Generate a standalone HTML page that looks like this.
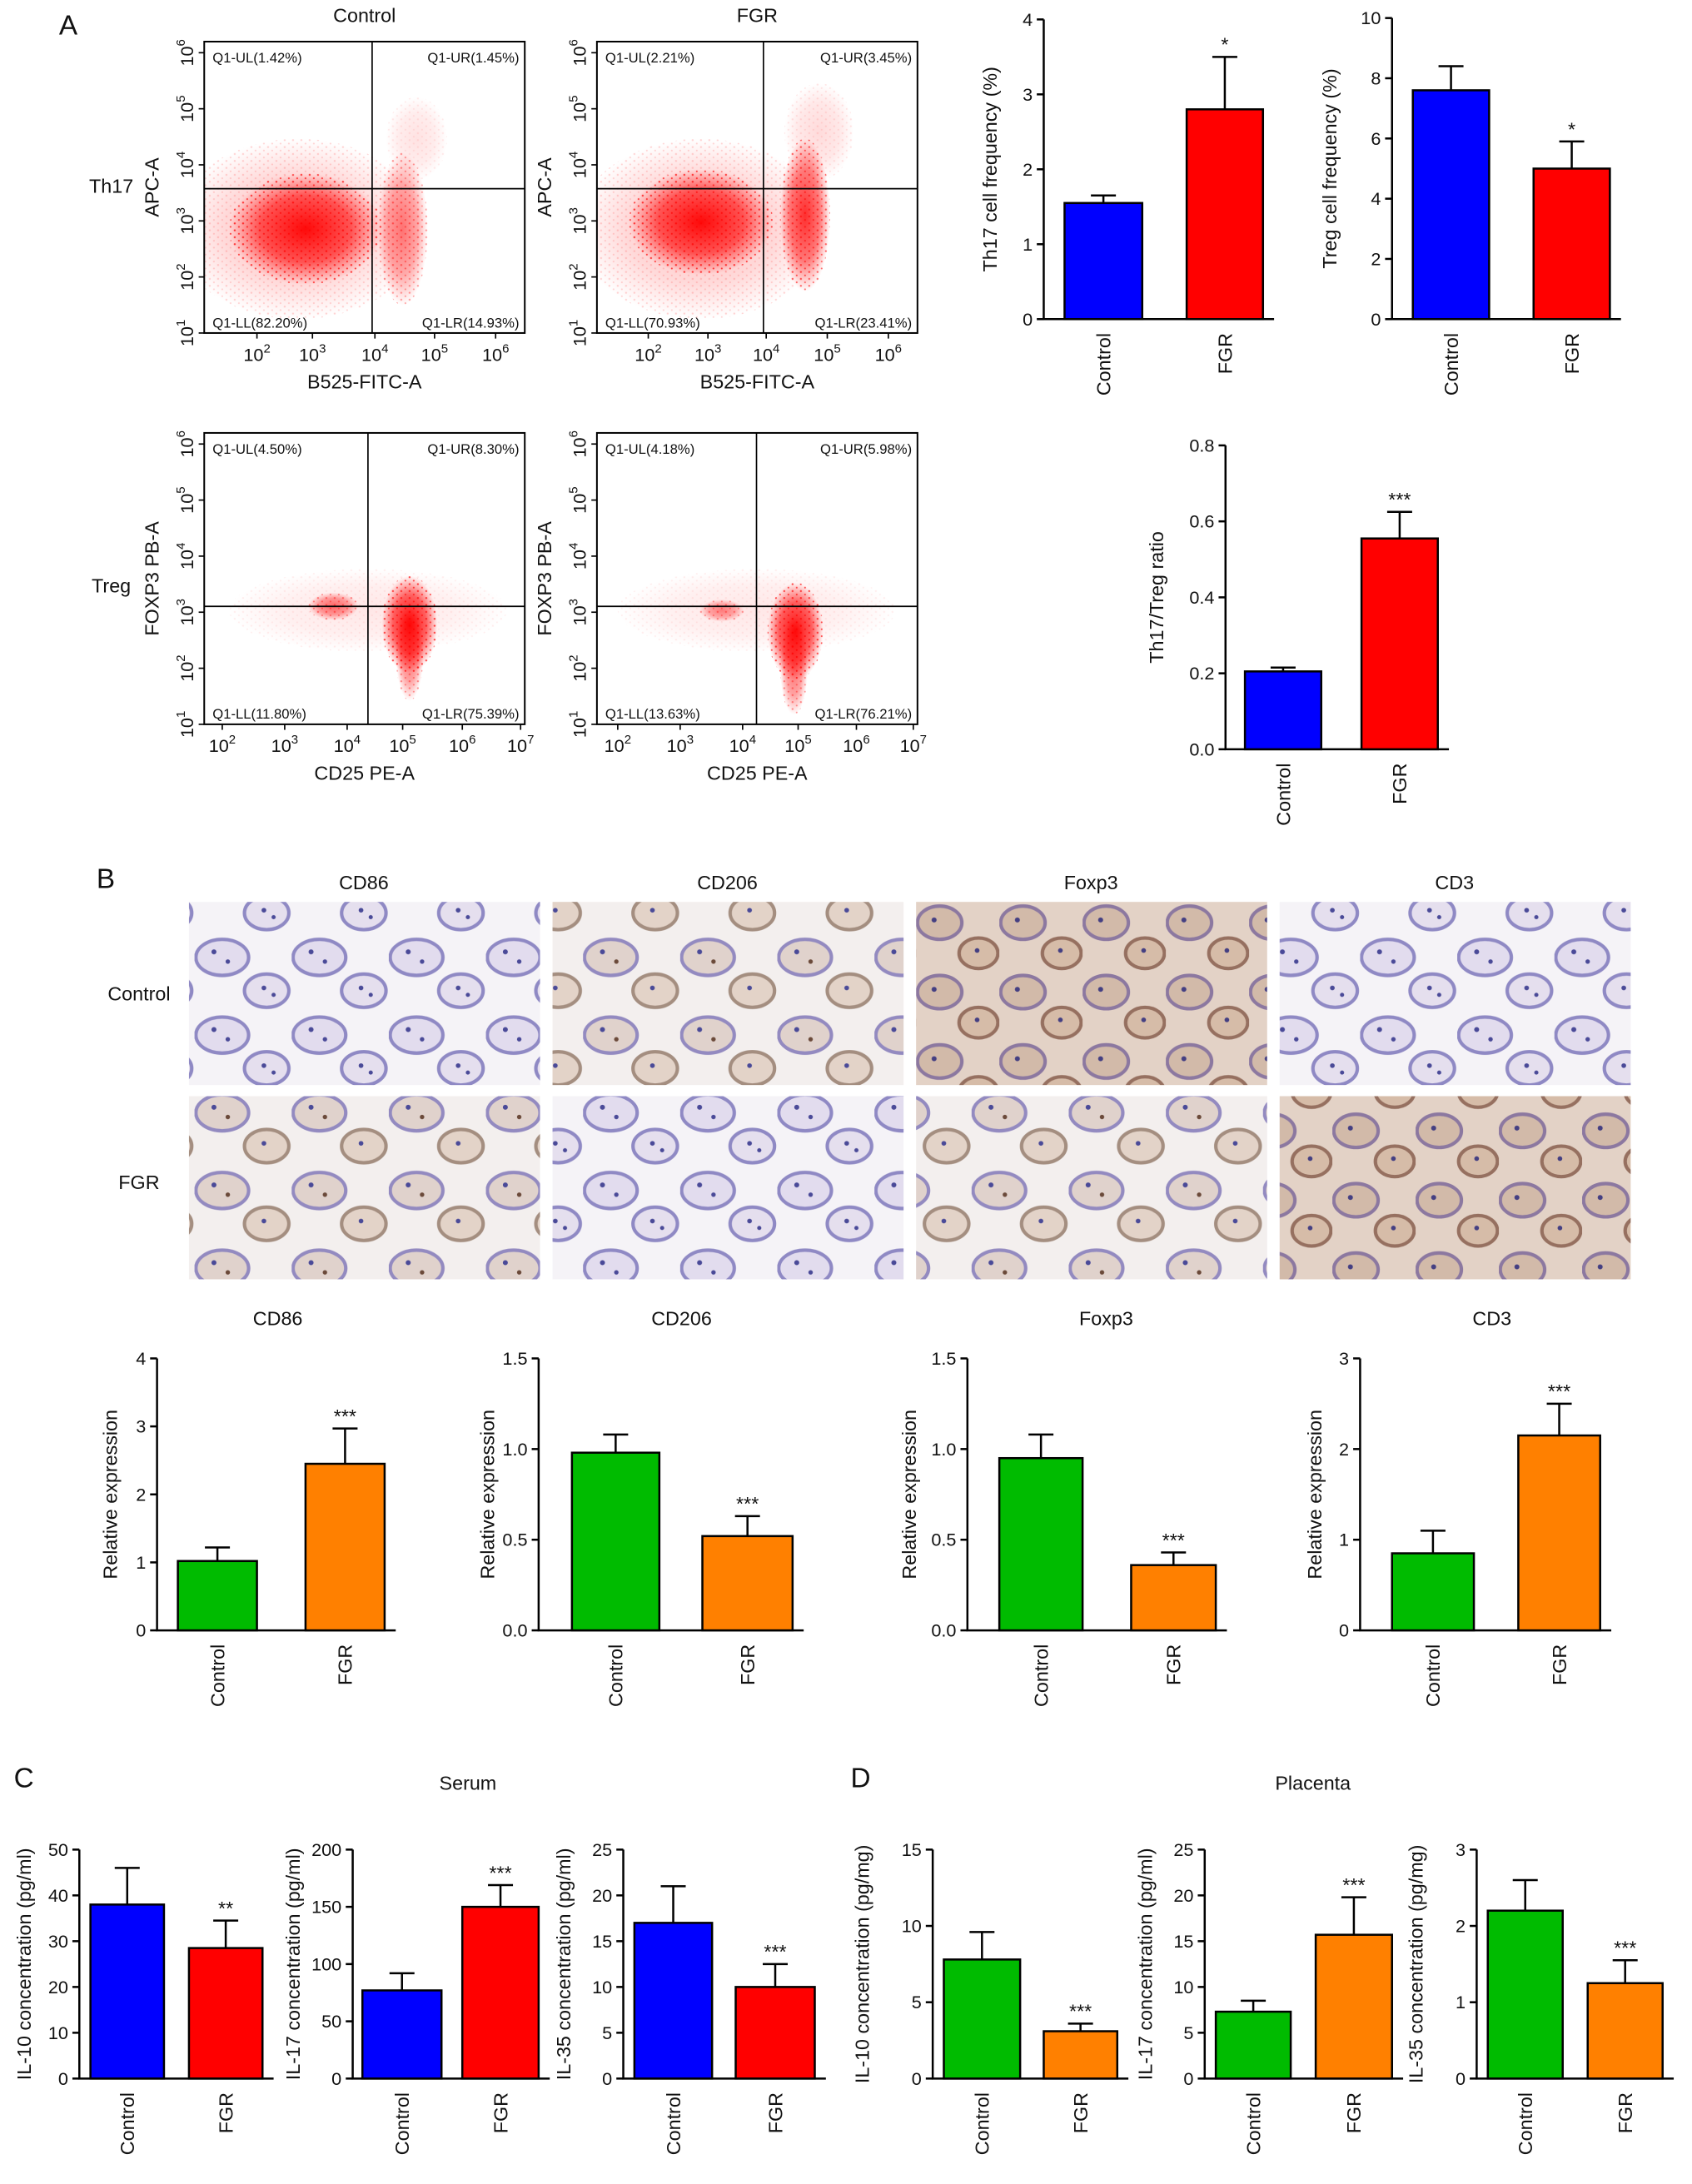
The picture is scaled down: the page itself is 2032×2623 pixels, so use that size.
<!DOCTYPE html>
<html><head><meta charset="utf-8"><style>
html,body{margin:0;padding:0;background:#fff}
svg{display:block}
text{font-family:"Liberation Sans",sans-serif;fill:#111}
</style></head><body>
<svg id="fig" xmlns="http://www.w3.org/2000/svg" width="2032" height="2623" viewBox="0 0 1219 1574">
<defs>
<radialGradient id="rg"><stop offset="0" stop-color="#ff0000" stop-opacity="0.95"/><stop offset="0.6" stop-color="#ff0000" stop-opacity="0.6"/><stop offset="1" stop-color="#ff0000" stop-opacity="0"/></radialGradient>
<pattern id="dots" width="6" height="5" patternUnits="userSpaceOnUse"><circle cx="1" cy="1" r="0.7" fill="#f00"/><circle cx="4" cy="3.5" r="0.6" fill="#f00"/></pattern>
<pattern id="tissueA" width="70" height="56" patternUnits="userSpaceOnUse">
<rect width="70" height="56" fill="#f5f3f7"/>
<ellipse cx="20" cy="18" rx="19" ry="13" fill="#e2dcee" stroke="#8f89c4" stroke-width="2.5"/>
<ellipse cx="52" cy="42" rx="16" ry="12" fill="#e5dfee" stroke="#8f89c4" stroke-width="2.5"/>
<circle cx="14" cy="14" r="1.8" fill="#4a4a98"/><circle cx="24" cy="21" r="1.6" fill="#4a4a98"/><circle cx="50" cy="40" r="1.7" fill="#4a4a98"/><circle cx="57" cy="45" r="1.5" fill="#4a4a98"/>
</pattern>
<pattern id="tissueB" width="70" height="56" patternUnits="userSpaceOnUse">
<rect width="70" height="56" fill="#f3efee"/>
<ellipse cx="20" cy="18" rx="19" ry="13" fill="#e0d2cc" stroke="#938ac0" stroke-width="2.5"/>
<ellipse cx="52" cy="42" rx="16" ry="12" fill="#e3d3c8" stroke="#a48e80" stroke-width="2.5"/>
<circle cx="14" cy="14" r="1.8" fill="#4a4a98"/><circle cx="24" cy="21" r="1.6" fill="#6b4a3a"/><circle cx="50" cy="40" r="1.7" fill="#4a4a98"/>
</pattern>
<pattern id="tissueC" width="60" height="50" patternUnits="userSpaceOnUse">
<rect width="60" height="50" fill="#e3d2c6"/>
<ellipse cx="17" cy="15" rx="16" ry="12" fill="#d2baa9" stroke="#8c78a0" stroke-width="2.5"/>
<ellipse cx="45" cy="37" rx="14" ry="11" fill="#d6bca8" stroke="#967060" stroke-width="2.5"/>
<circle cx="13" cy="13" r="1.8" fill="#443f82"/><circle cx="44" cy="35" r="1.7" fill="#443f82"/>
</pattern>
</defs>
<g id="root"></g>
</svg>
<script>
// ---------- data ----------
const th17Cats = ["Control","FGR"];
const th17Vals = [1.55, 2.8];
const th17Errs = [1.65, 3.5];
const tregVals = [7.6, 5.0];
const tregErrs = [8.4, 5.9];
const ratioVals = [0.205, 0.555];
const ratioErrs = [0.215, 0.625];
const cd86Vals = [1.02, 2.45];
const cd86Errs = [1.22, 2.97];
const cd206Vals = [0.98, 0.52];
const cd206Errs = [1.08, 0.63];
const foxp3Vals = [0.95, 0.36];
const foxp3Errs = [1.08, 0.43];
const cd3Vals = [0.85, 2.15];
const cd3Errs = [1.1, 2.5];
const sIL10Vals = [38, 28.5];
const sIL10Errs = [46, 34.5];
const sIL17Vals = [77, 150];
const sIL17Errs = [92, 169];
const sIL35Vals = [17, 10];
const sIL35Errs = [21, 12.5];
const pIL10Vals = [7.8, 3.1];
const pIL10Errs = [9.6, 3.6];
const pIL17Vals = [7.3, 15.7];
const pIL17Errs = [8.5, 19.8];
const pIL35Vals = [2.2, 1.25];
const pIL35Errs = [2.6, 1.55];
const quadLabels1 = ["Q1-UL(1.42%)","Q1-UR(1.45%)","Q1-LL(82.20%)","Q1-LR(14.93%)"];
const quadLabels2 = ["Q1-UL(2.21%)","Q1-UR(3.45%)","Q1-LL(70.93%)","Q1-LR(23.41%)"];
const quadLabels3 = ["Q1-UL(4.50%)","Q1-UR(8.30%)","Q1-LL(11.80%)","Q1-LR(75.39%)"];
const quadLabels4 = ["Q1-UL(4.18%)","Q1-UR(5.98%)","Q1-LL(13.63%)","Q1-LR(76.21%)"];

const NS="http://www.w3.org/2000/svg";
const root=document.getElementById('root');
function mk(tag,attrs,parent,txt){const e=document.createElementNS(NS,tag);for(const k in attrs)e.setAttribute(k,attrs[k]);if(txt!=null)e.textContent=txt;(parent||root).appendChild(e);return e;}
function txt(x,y,s,size,anchor,parent,rot,name){const t=mk('text',{x:x,y:y,'font-size':size,'text-anchor':anchor||'middle'},parent,s);if(rot)t.setAttribute('transform',`rotate(${rot} ${x} ${y})`);


return t;}

// ---------- bar chart ----------
function bar(o){
  const g=mk('g',{});
  
  
  const y=v=>o.y0-(v/o.max)*(o.y0-o.y1);
  const ax=mk('path',{d:`M${o.ax} ${o.y1}V${o.y0}H${o.bars[1][1]+8}`,stroke:'#000','stroke-width':1.5,fill:'none'},g);
  
  
  for(let i=0;i<o.ticks.length;i++){const v=o.ticks[i];const yy=y(v);
    mk('line',{x1:o.ax-5,x2:o.ax,y1:yy,y2:yy,stroke:'#000','stroke-width':1.5},g);
    txt(o.ax-8,yy+4.5,o.tickLabels[i],13,'end',g,0,'tick-label');}
  for(let i=0;i<2;i++){const [x0,x1]=o.bars[i];const cx=(x0+x1)/2;
    const ey=y(o.errs[i]);
    const el=mk('path',{d:`M${cx} ${y(o.vals[i])}V${ey}M${cx-9} ${ey}H${cx+9}`,stroke:'#000','stroke-width':1.5},g);
    
    
    const r=mk('rect',{x:x0,y:y(o.vals[i]),width:x1-x0,height:o.y0-y(o.vals[i]),fill:o.colors[i],stroke:'#000','stroke-width':1.5},g);
    
    
    txt(cx+5,o.y0+10,th17Cats[i],14,'end',g,-90,'category-label');
    if(i==1&&o.star) txt(cx,ey-4,o.star,14,'middle',g,0,'significance');
  }
  txt(o.ylx,(o.y0+o.y1)/2,o.ylabel,14,'middle',g,-90,'y-axis-title');
  if(o.title) txt(o.tx,o.ty,o.title,14,'middle',g,0,'chart-title');
}
const BLUE='#0000ff',RED='#ff0000',GREEN='#00bb00',ORANGE='#ff8000';
bar({name:'th17-frequency-chart',ax:752,y0:230,y1:14,max:4,ticks:[0,1,2,3,4],tickLabels:['0','1','2','3','4'],bars:[[767,823],[855,910]],vals:th17Vals,errs:th17Errs,colors:[BLUE,RED],star:'*',ylx:718,ylabel:'Th17 cell frequency (%)'});
bar({name:'treg-frequency-chart',ax:1003,y0:230,y1:13,max:10,ticks:[0,2,4,6,8,10],tickLabels:['0','2','4','6','8','10'],bars:[[1018,1073],[1105,1160]],vals:tregVals,errs:tregErrs,colors:[BLUE,RED],star:'*',ylx:963,ylabel:'Treg cell frequency (%)'});
bar({name:'th17-treg-ratio-chart',ax:883,y0:540,y1:321,max:0.8,ticks:[0,0.2,0.4,0.6,0.8],tickLabels:['0.0','0.2','0.4','0.6','0.8'],bars:[[897,952],[981,1036]],vals:ratioVals,errs:ratioErrs,colors:[BLUE,RED],star:'***',ylx:838,ylabel:'Th17/Treg ratio'});
bar({name:'cd86-chart',ax:113,y0:1175,y1:979,max:4,ticks:[0,1,2,3,4],tickLabels:['0','1','2','3','4'],bars:[[128,185],[220,277]],vals:cd86Vals,errs:cd86Errs,colors:[GREEN,ORANGE],star:'***',ylx:84,ylabel:'Relative expression',title:'CD86',tx:200,ty:955});
bar({name:'cd206-chart',ax:388,y0:1175,y1:979,max:1.5,ticks:[0,0.5,1,1.5],tickLabels:['0.0','0.5','1.0','1.5'],bars:[[412,475],[506,571]],vals:cd206Vals,errs:cd206Errs,colors:[GREEN,ORANGE],star:'***',ylx:356,ylabel:'Relative expression',title:'CD206',tx:491,ty:955});
bar({name:'foxp3-chart',ax:697,y0:1175,y1:979,max:1.5,ticks:[0,0.5,1,1.5],tickLabels:['0.0','0.5','1.0','1.5'],bars:[[720,780],[815,876]],vals:foxp3Vals,errs:foxp3Errs,colors:[GREEN,ORANGE],star:'***',ylx:660,ylabel:'Relative expression',title:'Foxp3',tx:797,ty:955});
bar({name:'cd3-chart',ax:980,y0:1175,y1:979,max:3,ticks:[0,1,2,3],tickLabels:['0','1','2','3'],bars:[[1003,1062],[1094,1153]],vals:cd3Vals,errs:cd3Errs,colors:[GREEN,ORANGE],star:'***',ylx:952,ylabel:'Relative expression',title:'CD3',tx:1075,ty:955});
bar({name:'serum-il10-chart',ax:57,y0:1498,y1:1333,max:50,ticks:[0,10,20,30,40,50],tickLabels:['0','10','20','30','40','50'],bars:[[65,118],[136,189]],vals:sIL10Vals,errs:sIL10Errs,colors:[BLUE,RED],star:'**',ylx:22,ylabel:'IL-10 concentration (pg/ml)'});
bar({name:'serum-il17-chart',ax:254,y0:1498,y1:1333,max:200,ticks:[0,50,100,150,200],tickLabels:['0','50','100','150','200'],bars:[[261,318],[333,388]],vals:sIL17Vals,errs:sIL17Errs,colors:[BLUE,RED],star:'***',ylx:216,ylabel:'IL-17 concentration (pg/ml)'});
bar({name:'serum-il35-chart',ax:449,y0:1498,y1:1333,max:25,ticks:[0,5,10,15,20,25],tickLabels:['0','5','10','15','20','25'],bars:[[457,513],[530,587]],vals:sIL35Vals,errs:sIL35Errs,colors:[BLUE,RED],star:'***',ylx:411,ylabel:'IL-35 concentration (pg/ml)'});
bar({name:'placenta-il10-chart',ax:672,y0:1498,y1:1333,max:15,ticks:[0,5,10,15],tickLabels:['0','5','10','15'],bars:[[680,735],[752,805]],vals:pIL10Vals,errs:pIL10Errs,colors:[GREEN,ORANGE],star:'***',ylx:626,ylabel:'IL-10 concentration (pg/mg)'});
bar({name:'placenta-il17-chart',ax:868,y0:1498,y1:1333,max:25,ticks:[0,5,10,15,20,25],tickLabels:['0','5','10','15','20','25'],bars:[[876,930],[948,1003]],vals:pIL17Vals,errs:pIL17Errs,colors:[GREEN,ORANGE],star:'***',ylx:830,ylabel:'IL-17 concentration (pg/ml)'});
bar({name:'placenta-il35-chart',ax:1064,y0:1498,y1:1333,max:3,ticks:[0,1,2,3],tickLabels:['0','1','2','3'],bars:[[1072,1126],[1144,1198]],vals:pIL35Vals,errs:pIL35Errs,colors:[GREEN,ORANGE],star:'***',ylx:1025,ylabel:'IL-35 concentration (pg/mg)'});

// ---------- flow plots ----------
function flow(o){
  const g=mk('g',{});
  
  
  const X0=o.x,Y0=o.y,W=231,H=210;
  const cp='cp'+o.name;
  const c=mk('clipPath',{id:cp},g);mk('rect',{x:X0,y:Y0,width:W,height:H},c);
  const gg=mk('g',{'clip-path':`url(#${cp})`},g);
  for(const b of o.blobs){
    mk('ellipse',{cx:b[0],cy:b[1],rx:b[2],ry:b[3],fill:'url(#dots)',opacity:b[4]*0.7},gg);
    mk('ellipse',{cx:b[0],cy:b[1],rx:b[2],ry:b[3],fill:'url(#rg)',opacity:b[4]},gg);
  }
  mk('rect',{x:X0,y:Y0,width:W,height:H,fill:'none',stroke:'#000','stroke-width':1.2},g);
  mk('line',{x1:o.vx,x2:o.vx,y1:Y0,y2:Y0+H,stroke:'#000','stroke-width':1},g);
  mk('line',{x1:X0,x2:X0+W,y1:o.hy,y2:o.hy,stroke:'#000','stroke-width':1},g);
  const q=o.q;
  txt(X0+6,Y0+15,q[0],10,'start',g,0,'quadrant-label');
  txt(X0+W-4,Y0+15,q[1],10,'end',g,0,'quadrant-label');
  txt(X0+6,Y0+H-4,q[2],10,'start',g,0,'quadrant-label');
  txt(X0+W-4,Y0+H-4,q[3],10,'end',g,0,'quadrant-label');
  for(let i=0;i<6;i++){const yy=Y0+H-i*(H-8)/5;
    mk('line',{x1:X0-4,x2:X0,y1:yy,y2:yy,stroke:'#000'},g);
    const t=txt(X0-8,yy,'',13,'middle',g,-90,'y-tick-label');
    t.innerHTML=`10<tspan dy="-6" font-size="9">${i+1}</tspan>`;}
  o.xt.forEach((xx,i)=>{mk('line',{x1:xx,x2:xx,y1:Y0+H,y2:Y0+H+4,stroke:'#000'},g);
    const t=txt(xx,Y0+H+20,'',13,'middle',g,0,'x-tick-label');
    t.innerHTML=`10<tspan dy="-6" font-size="9">${i+o.xs}</tspan>`;});
  txt(X0+W/2,Y0+H+40,o.xl,14,'middle',g,0,'x-axis-title');
  txt(X0-33,Y0+H/2,o.yl,14,'middle',g,-90,'y-axis-title');
  if(o.title) txt(X0+W/2,16,o.title,14,'middle',g,0,'plot-title');
}
flow({name:'flow-th17-control',x:147,y:30,vx:268,hy:136,q:quadLabels1,xt:[185,225,270,313,357],xs:2,xl:'B525-FITC-A',yl:'APC-A',title:'Control',
 blobs:[[215,165,90,65,0.25],[220,165,55,40,1],[290,165,18,55,0.55],[300,100,22,30,0.12]]});
flow({name:'flow-th17-fgr',x:430,y:30,vx:550,hy:136,q:quadLabels2,xt:[467,510,552,596,640],xs:2,xl:'B525-FITC-A',yl:'APC-A',title:'FGR',
 blobs:[[505,165,90,65,0.25],[505,160,52,38,1],[580,155,18,55,0.85],[590,95,25,35,0.15]]});
flow({name:'flow-treg-control',x:147,y:312,vx:265,hy:437,q:quadLabels3,xt:[160,205,250,290,333,375],xs:2,xl:'CD25 PE-A',yl:'FOXP3 PB-A',
 blobs:[[265,440,100,30,0.1],[240,437,18,10,0.6],[295,450,20,35,1],[295,470,10,35,0.6]]});
flow({name:'flow-treg-fgr',x:430,y:312,vx:545,hy:437,q:quadLabels4,xt:[445,490,535,575,617,658],xs:2,xl:'CD25 PE-A',yl:'FOXP3 PB-A',
 blobs:[[545,440,100,30,0.1],[520,440,16,8,0.5],[573,455,20,35,1],[572,480,10,35,0.6]]});

// ---------- histology ----------
const histCols=[136,398,660,922], histRows=[650,790];
const histTitles=['CD86','CD206','Foxp3','CD3'];
const fills=[['tissueA','tissueB','tissueC','tissueA'],['tissueB','tissueA','tissueB','tissueC']];
histCols.forEach((x,i)=>{histRows.forEach((y,j)=>{
  const r=mk('rect',{x:x,y:y,width:253,height:132,fill:`url(#${fills[j][i]})`});
  
  
 });
 txt(x+126,641,histTitles[i],14,'middle',null,0,'histology-title');
});
txt(100,721,'Control',14,'middle',null,0,'row-label');
txt(100,857,'FGR',14,'middle',null,0,'row-label');
txt(80,139,'Th17',14,'middle',null,0,'row-label');
txt(80,427,'Treg',14,'middle',null,0,'row-label');
txt(49,25,'A',20,'middle',null,0,'panel-label-a');
txt(76,640,'B',20,'middle',null,0,'panel-label-b');
txt(17,1288,'C',20,'middle',null,0,'panel-label-c');
txt(620,1288,'D',20,'middle',null,0,'panel-label-d');
txt(337,1290,'Serum',14,'middle',null,0,'section-title');
txt(946,1290,'Placenta',14,'middle',null,0,'section-title');
</script>
</body></html>
